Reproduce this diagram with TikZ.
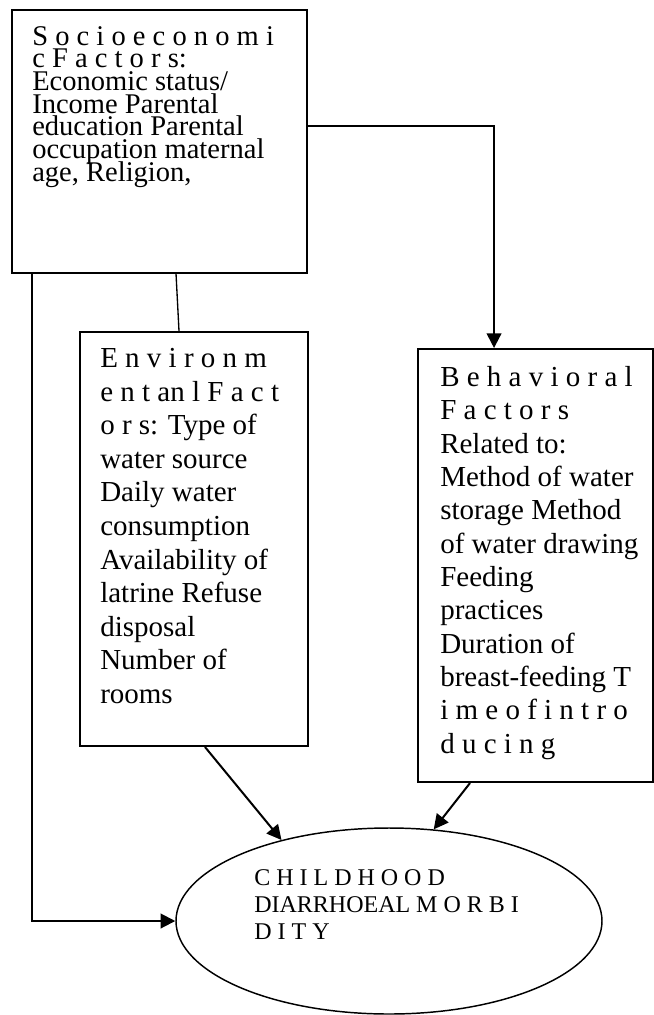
\documentclass[tikz,border=0pt]{standalone}
\usepackage{fontspec}
\setmainfont{Liberation Serif}
\usetikzlibrary{arrows.meta, shapes.geometric}
\newcommand{\tightlines}{\lineskiplimit=-50pt\relax}
\tikzset{
    box/.style = {draw, rectangle, line width=1.5pt, inner sep=0pt},
    outcome/.style = {draw, ellipse, line width=1.1pt, inner sep=0pt},
    boxtext/.style = {anchor=north west, inner sep=0pt, align=left},
    link/.style = {->, line width=1.5pt}
}

\begin{document}
\begin{tikzpicture}[x=0.75pt, y=-0.75pt, >={Triangle[length=11pt, width=11pt]}]
    \useasboundingbox (0,0) rectangle (654,1015);
    % Cajas
    \node [box, minimum width=221.25pt, minimum height=197.25pt] (socio) at (159.5,141.5) {};
    \node [box, minimum width=171pt, minimum height=310.5pt] (env) at (194,539) {};
    \node [box, minimum width=176.25pt, minimum height=324.75pt] (behav) at (535.5,565.5) {};
    \node [outcome, minimum width=319.5pt, minimum height=139.5pt] (child) at (389,921) {};
    % Textos
    \node [boxtext, font={\fontsize{21.4pt}{17pt}\selectfont\tightlines}]
        (socio-text) at ([shift={(21,17)}]socio.north west)
        {S o c i o e c o n o m i\\c F a c t o r s:\\Economic status/\\Income Parental\\education Parental\\occupation maternal\\age, Religion,};
    \node [boxtext, font={\fontsize{21.75pt}{25.2pt}\selectfont\tightlines}]
        (env-text) at ([shift={(21,17)}]env.north west)
        {E n v i r o n m\\e n t an l F a c t\\o r s: Type of\\water source\\Daily water\\consumption\\Availability of\\latrine Refuse\\disposal\\Number of\\rooms};
    \node [boxtext, font={\fontsize{21.75pt}{25pt}\selectfont\tightlines}]
        (behav-text) at ([shift={(23,18)}]behav.north west)
        {B e h a v i o r a l\\F a c t o r s\\Related to:\\Method of water\\storage Method\\of water drawing\\Feeding\\practices\\Duration of\\breast-feeding T\\i m e o f i n t r o\\d u c i n g};
    \node [boxtext, font={\fontsize{18pt}{20.25pt}\selectfont\tightlines}]
        (child-text) at ([shift={(-135,-52)}]child.center)
        {C H I L D H O O D\\DIARRHOEAL M O R B I\\D I T Y};
    % Flechas
    \draw [line width=1pt] ([xshift=12.4pt]socio.south) -- ([xshift=-11.25pt]env.north);
    \draw [link] ([xshift=15.75pt]socio.south west) |- (child.west);
    \draw [link] ([yshift=11.6pt]socio.east) -| ([xshift=-31.1pt]behav.north);
    \draw [link] ([xshift=8.25pt]env.south) -- (child.143);
    \draw [link] ([xshift=-49.1pt]behav.south) -- (child.64);
\end{tikzpicture}
\end{document}
